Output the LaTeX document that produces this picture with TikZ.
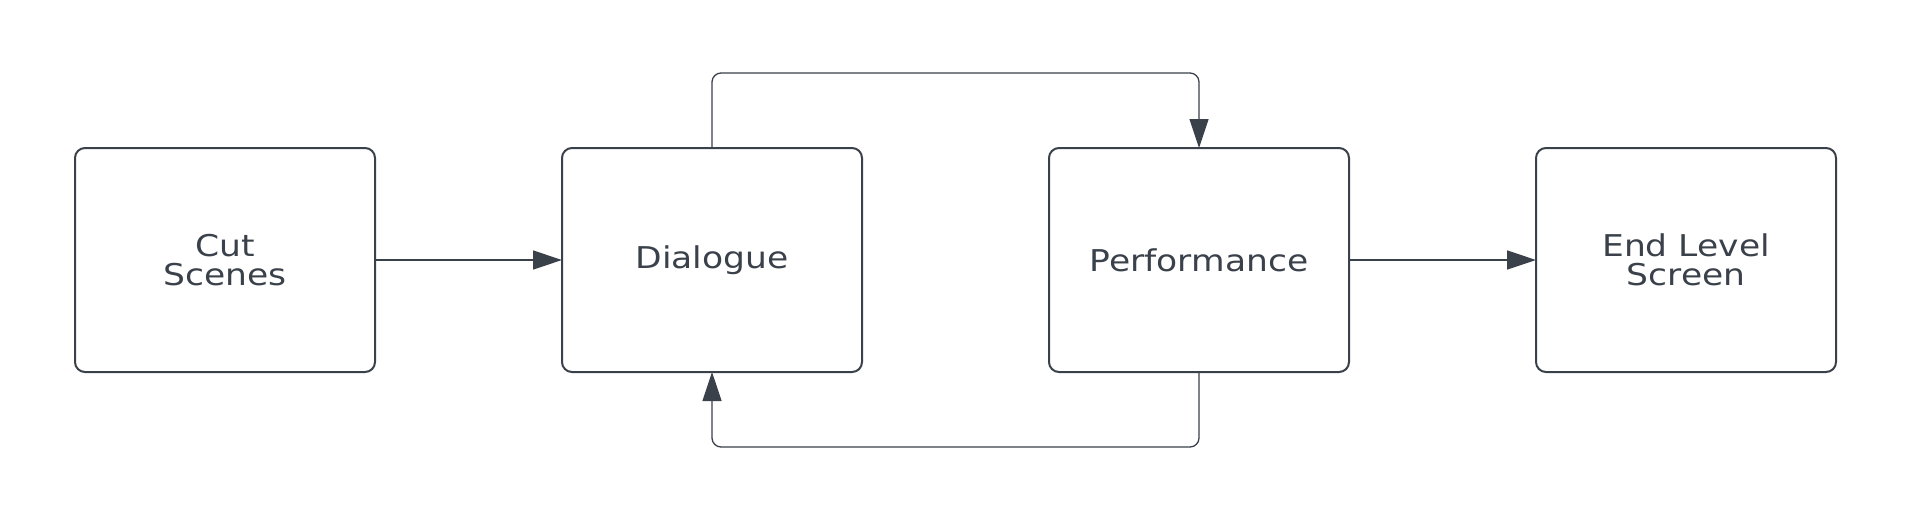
\documentclass[tikz,border=0pt]{standalone}
\usepackage{fontspec}
\setmainfont{DejaVu Sans}[FakeStretch=1.15]
\usepackage{tikz}
\usetikzlibrary{arrows.meta,positioning}

\definecolor{slate}{RGB}{58,65,74}
\tikzset{
  stage/.style={draw=slate, line width=2pt, rounded corners=10pt, minimum width=300pt,
    minimum height=224pt, outer sep=0pt, align=center, text=slate,
    font=\fontsize{30}{29}\selectfont},
  flow/.style={draw=slate, line width=1.3pt, -{Triangle[length=29pt,width=19pt]}},
}

\begin{document}
\begin{tikzpicture}[x=1pt,y=1pt,node distance=187pt]
  \useasboundingbox (0,0) rectangle (1913,-527);
  % the four stages in a row
  \node[stage] (cut) at (225,-260) {Cut\\Scenes};
  \node[stage] (dialogue) [right=of cut] {Dialogue};
  \node[stage] (perf) [right=of dialogue] {Performance};
  \node[stage] (endlvl) [right=of perf] {End Level\\Screen};
  % straight edges
  \path (cut) edge[flow] (dialogue);
  \path (perf) edge[flow] (endlvl);
  % the loop over and under
  \draw[flow, rounded corners=9pt] (dialogue.north) -- ++(0,75) -| (perf.north);
  \draw[flow, rounded corners=9pt] (perf.south) -- ++(0,-75) -| (dialogue.south);
\end{tikzpicture}
\end{document}
